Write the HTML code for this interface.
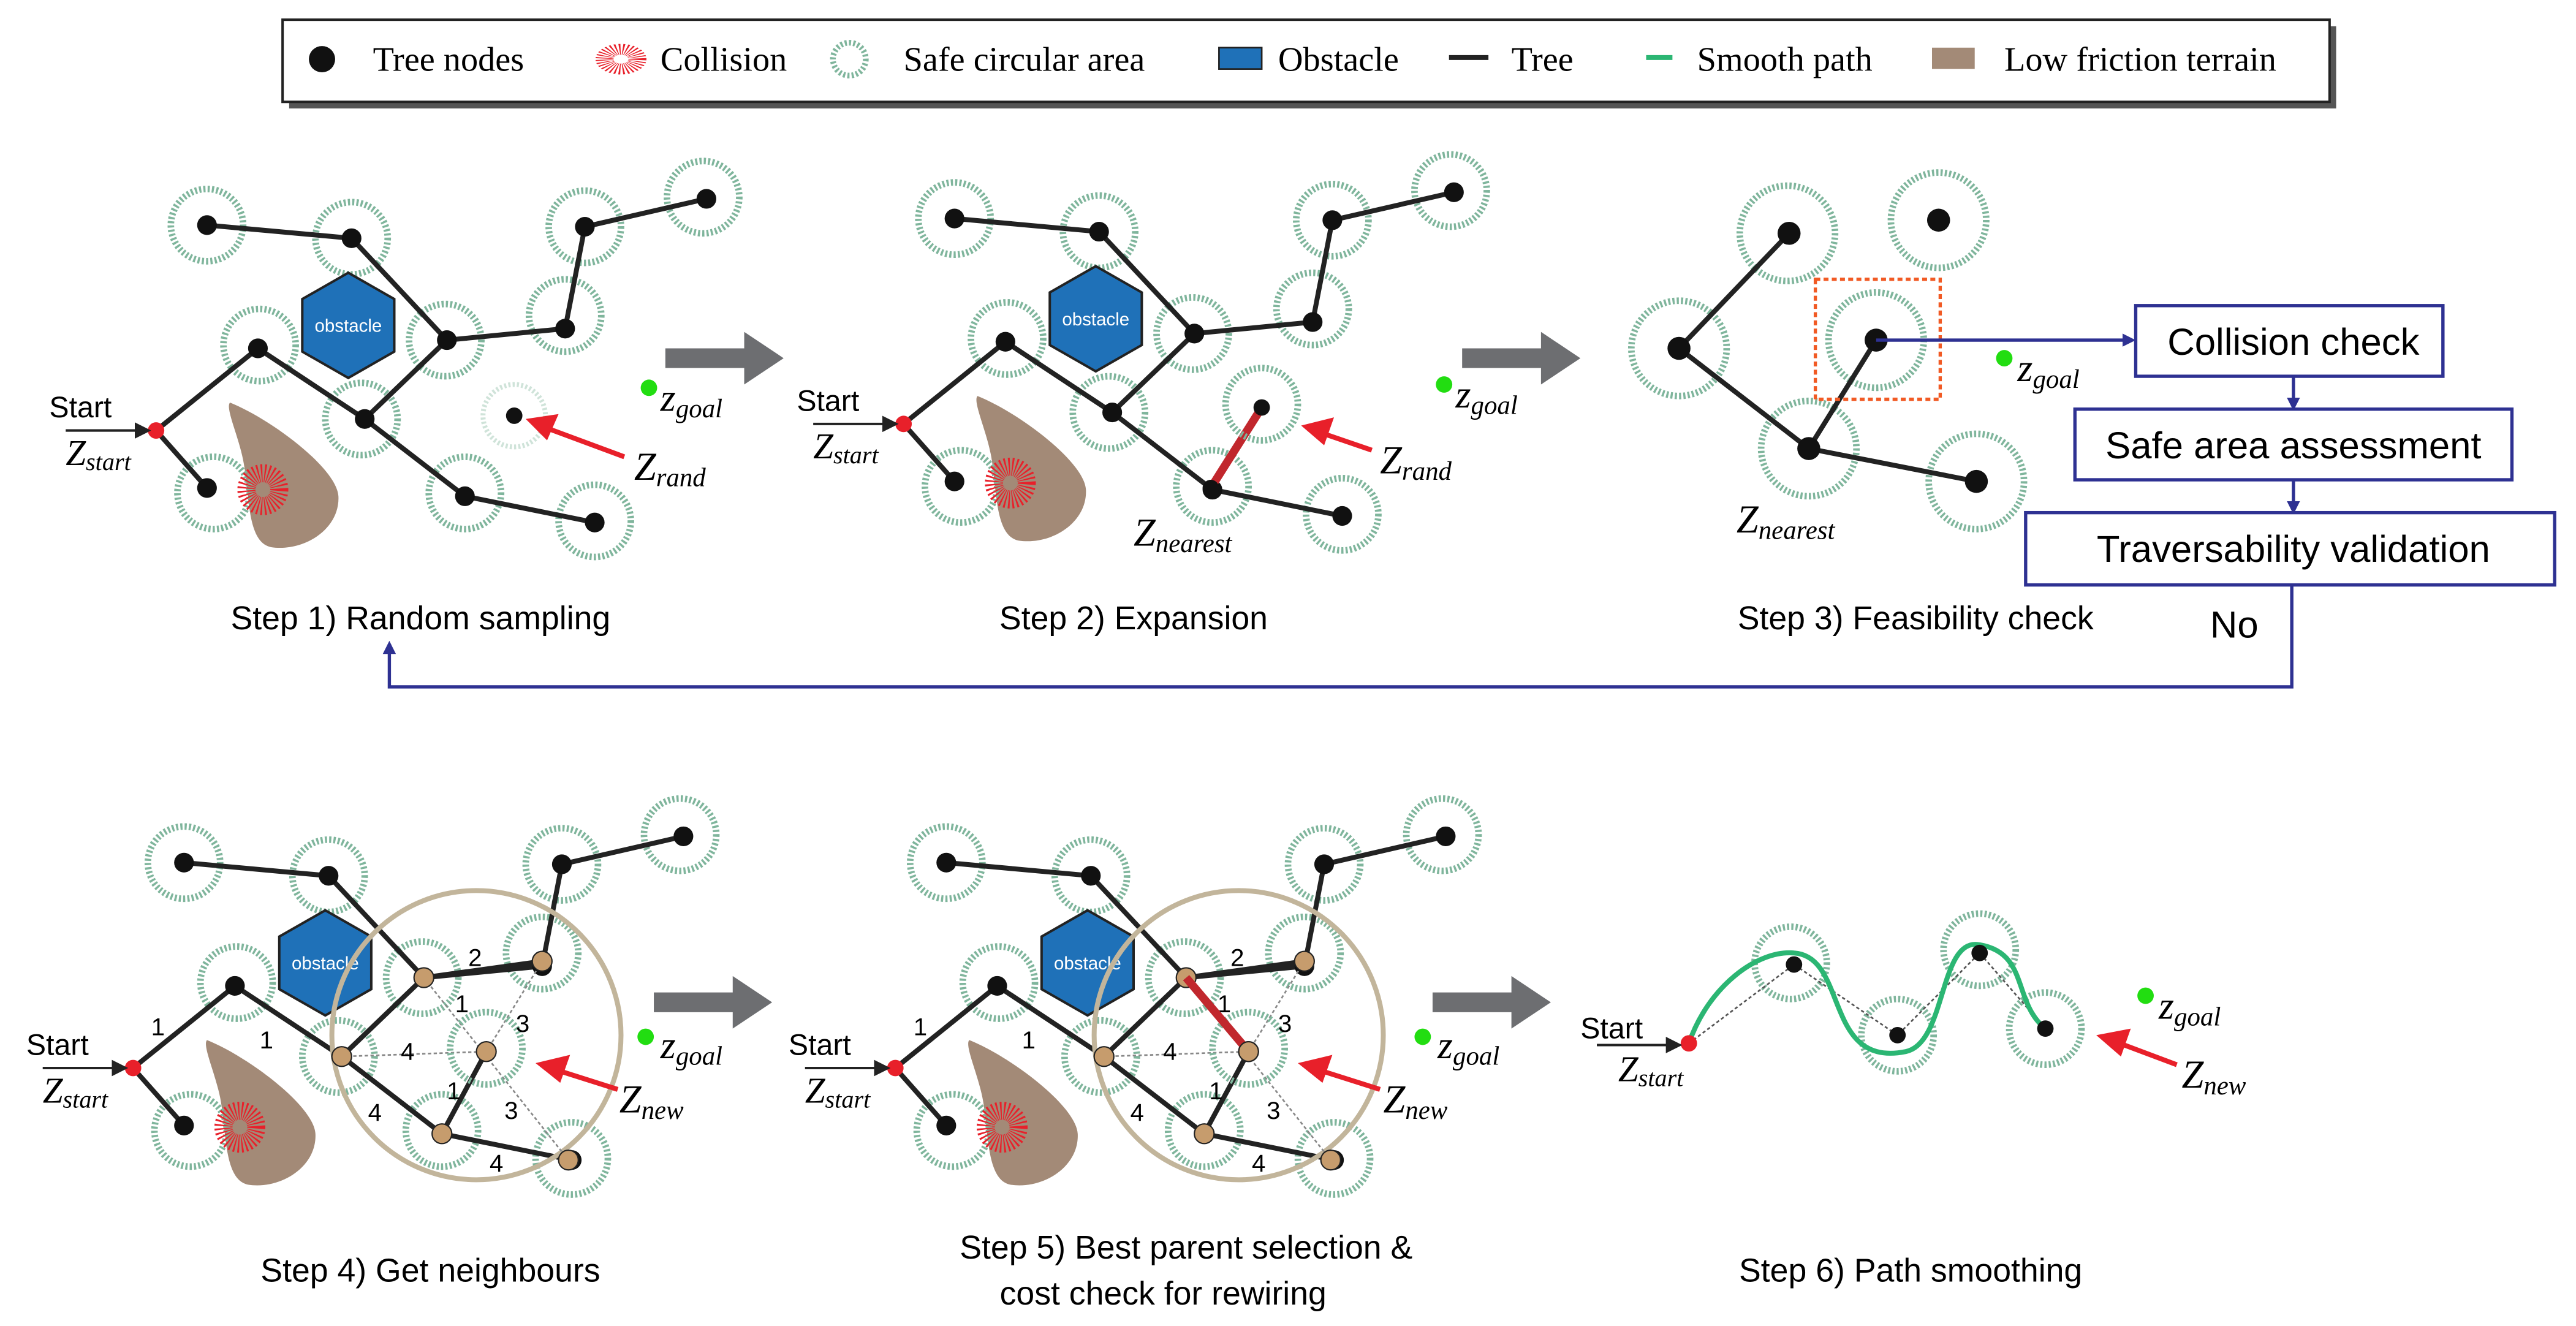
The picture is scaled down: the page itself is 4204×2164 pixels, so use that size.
<!DOCTYPE html>
<html><head><meta charset="utf-8"><style>
html,body{margin:0;padding:0;background:#fff;}
svg{display:block}
text{font-family:"Liberation Sans",sans-serif;}
.z{font-family:"Liberation Serif",serif;font-style:italic;}
</style></head><body>
<svg width="4204" height="2164" viewBox="0 0 1568 807" preserveAspectRatio="none" xmlns="http://www.w3.org/2000/svg">
<defs>
<g id="sc"><circle r="22" fill="none" stroke="#7fb59c" stroke-width="4" stroke-dasharray="1.3 1.3"/></g>
<g id="coll"><circle r="10" fill="none" stroke="#e8202a" stroke-width="11" stroke-dasharray="0.8 1.2"/></g>
<marker id="ab" markerWidth="8" markerHeight="8" refX="6" refY="4" orient="auto" markerUnits="userSpaceOnUse"><path d="M0,0 L8,4 L0,8z" fill="#2e3192"/></marker>
<marker id="ak" markerWidth="10" markerHeight="10" refX="8" refY="5" orient="auto" markerUnits="userSpaceOnUse"><path d="M0,0 L10,5 L0,10z" fill="#222"/></marker>
<g id="base">
<path d="M140,245 C165,255 205,285 206,302 C207,322 185,336 165,333 C150,330 152,300 148,280 C145,265 137,248 140,245z" fill="#a38a77"/>
<use href="#sc" x="126" y="137"/><use href="#sc" x="214" y="145"/><use href="#sc" x="356" y="138"/><use href="#sc" x="428" y="120"/>
<use href="#sc" x="344" y="192"/><use href="#sc" x="271" y="207"/><use href="#sc" x="158" y="210"/><use href="#sc" x="220" y="255"/>
<use href="#sc" x="283" y="300"/><use href="#sc" x="362" y="317"/><use href="#sc" x="130" y="300"/>
<g stroke="#222" stroke-width="3" fill="none">
<polyline points="126,137 214,145 272,207 344,200 356,138 430,121"/>
<polyline points="272,207 222,255 157,212 95,262 126,297"/>
<polyline points="222,255 283,302 362,318"/>
</g>
<use href="#coll" x="160" y="298"/>
<polygon points="212,166 240,182 240,214 212,230 184,214 184,182" fill="#1f71b8" stroke="#222" stroke-width="1.5"/>
<text x="212" y="202" font-size="11" fill="#fff" text-anchor="middle">obstacle</text>
<g fill="#111"><circle cx="126" cy="137" r="6"/><circle cx="214" cy="145" r="6"/><circle cx="356" cy="138" r="6"/><circle cx="430" cy="121" r="6"/><circle cx="344" cy="200" r="6"/><circle cx="272" cy="207" r="6"/><circle cx="157" cy="212" r="6"/><circle cx="222" cy="255" r="6"/><circle cx="283" cy="302" r="6"/><circle cx="362" cy="318" r="6"/><circle cx="126" cy="297" r="6"/></g>
<circle cx="95" cy="262" r="5" fill="#e8202a"/>
<text x="30" y="254" font-size="18">Start</text>
<line x1="40" y1="262" x2="90" y2="262" stroke="#222" stroke-width="1.5" marker-end="url(#ak)"/>
<text x="40" y="283" class="z" font-size="22">Z<tspan font-size="15" dy="3">start</tspan></text>
</g>
<g id="grey"><polygon points="0,-6 48,-6 48,-16 72,0 48,16 48,6 0,6" fill="#6d6e71"/></g>
</defs>
<!-- legend -->
<rect x="176" y="16" width="1246" height="50" fill="#555"/>
<rect x="172" y="12" width="1246" height="50" fill="#fff" stroke="#222" stroke-width="1.5"/>
<circle cx="196" cy="36" r="8" fill="#111"/><text x="227" y="43" class="z" font-size="21" style="font-style:normal">Tree nodes</text>
<use href="#coll" x="378" y="36" transform="translate(378 36) scale(1 0.6) translate(-378 -36)"/><text x="402" y="43" class="z" font-size="21" style="font-style:normal">Collision</text>
<circle cx="517" cy="36" r="10" fill="none" stroke="#7fb59c" stroke-width="3.5" stroke-dasharray="1.3 1.3"/><text x="550" y="43" class="z" font-size="21" style="font-style:normal">Safe circular area</text>
<rect x="742" y="29" width="26" height="13" fill="#1f71b8" stroke="#222"/><text x="778" y="43" class="z" font-size="21" style="font-style:normal">Obstacle</text>
<line x1="882" y1="35" x2="906" y2="35" stroke="#222" stroke-width="3"/><text x="920" y="43" class="z" font-size="21" style="font-style:normal">Tree</text>
<line x1="1002" y1="35" x2="1018" y2="35" stroke="#2bb673" stroke-width="3"/><text x="1033" y="43" class="z" font-size="21" style="font-style:normal">Smooth path</text>
<rect x="1176" y="29" width="26" height="13" fill="#a38a77"/><text x="1220" y="43" class="z" font-size="21" style="font-style:normal">Low friction terrain</text>

<!-- panel 1 -->
<use href="#base"/>
<circle cx="313" cy="253" r="19" fill="none" stroke="#cfe3d9" stroke-width="3" stroke-dasharray="1.3 1.3"/>
<circle cx="313" cy="253" r="5" fill="#111"/>
<line x1="380" y1="278" x2="326" y2="258" stroke="#e8202a" stroke-width="3"/><polygon points="320,255 340,252 333,268" fill="#e8202a"/>
<text x="386" y="292" class="z" font-size="24">Z<tspan font-size="16" dy="4">rand</tspan></text>
<circle cx="395" cy="236" r="5" fill="#22dd11"/><text x="402" y="250" class="z" font-size="24">z<tspan font-size="16" dy="4">goal</tspan></text>
<use href="#grey" x="405" y="218"/>
<text x="256" y="383" font-size="20" text-anchor="middle">Step 1) Random sampling</text>

<!-- panel 2 -->
<use href="#base" x="455" y="-4"/>
<line x1="737" y1="297" x2="768" y2="248" stroke="#c1272d" stroke-width="5"/>
<circle cx="768" cy="246" r="22" fill="none" stroke="#7fb59c" stroke-width="4" stroke-dasharray="1.3 1.3"/>
<circle cx="768" cy="248" r="5" fill="#111"/><circle cx="737" cy="297" r="5" fill="#111"/>
<line x1="835" y1="274" x2="800" y2="262" stroke="#e8202a" stroke-width="3"/><polygon points="792,259 812,254 806,271" fill="#e8202a"/>
<text x="840" y="288" class="z" font-size="24">Z<tspan font-size="16" dy="4">rand</tspan></text>
<text x="690" y="332" class="z" font-size="24">Z<tspan font-size="16" dy="4">nearest</tspan></text>
<circle cx="879" cy="234" r="5" fill="#22dd11"/><text x="886" y="248" class="z" font-size="24">z<tspan font-size="16" dy="4">goal</tspan></text>
<use href="#grey" x="890" y="218"/>
<text x="690" y="383" font-size="20" text-anchor="middle">Step 2) Expansion</text>

<!-- panel 3 -->
<g>
<circle cx="1088" cy="142" r="29" fill="none" stroke="#7fb59c" stroke-width="4" stroke-dasharray="1.3 1.3"/>
<circle cx="1180" cy="134" r="29" fill="none" stroke="#7fb59c" stroke-width="4" stroke-dasharray="1.3 1.3"/>
<circle cx="1022" cy="212" r="29" fill="none" stroke="#7fb59c" stroke-width="4" stroke-dasharray="1.3 1.3"/>
<circle cx="1142" cy="207" r="29" fill="none" stroke="#7fb59c" stroke-width="4" stroke-dasharray="1.3 1.3"/>
<circle cx="1101" cy="273" r="29" fill="none" stroke="#7fb59c" stroke-width="4" stroke-dasharray="1.3 1.3"/>
<circle cx="1203" cy="293" r="29" fill="none" stroke="#7fb59c" stroke-width="4" stroke-dasharray="1.3 1.3"/>
</g>
<polyline points="1089,142 1022,212 1101,273 1142,207" fill="none" stroke="#222" stroke-width="3"/>
<line x1="1101" y1="273" x2="1203" y2="293" stroke="#222" stroke-width="3"/>
<g fill="#111"><circle cx="1089" cy="142" r="7"/><circle cx="1180" cy="134" r="7"/><circle cx="1022" cy="212" r="7"/><circle cx="1142" cy="207" r="7"/><circle cx="1101" cy="273" r="7"/><circle cx="1203" cy="293" r="7"/></g>
<rect x="1105" y="170" width="76" height="73" fill="none" stroke="#f15a24" stroke-width="2" stroke-dasharray="3 2"/>
<text x="1057" y="324" class="z" font-size="24">Z<tspan font-size="16" dy="4">nearest</tspan></text>
<circle cx="1220" cy="218" r="5" fill="#22dd11"/><text x="1228" y="232" class="z" font-size="24">z<tspan font-size="16" dy="4">goal</tspan></text>
<line x1="1142" y1="207" x2="1298" y2="207" stroke="#2e3192" stroke-width="2" marker-end="url(#ab)"/>
<rect x="1300" y="186" width="187" height="43" fill="#fff" stroke="#2e3192" stroke-width="2"/>
<text x="1396" y="216" font-size="23" text-anchor="middle">Collision check</text>
<line x1="1396" y1="229" x2="1396" y2="248" stroke="#2e3192" stroke-width="2" marker-end="url(#ab)"/>
<rect x="1263" y="249" width="266" height="43" fill="#fff" stroke="#2e3192" stroke-width="2"/>
<text x="1396" y="279" font-size="23" text-anchor="middle">Safe area assessment</text>
<line x1="1396" y1="292" x2="1396" y2="311" stroke="#2e3192" stroke-width="2" marker-end="url(#ab)"/>
<rect x="1233" y="312" width="322" height="44" fill="#fff" stroke="#2e3192" stroke-width="2"/>
<text x="1396" y="342" font-size="23" text-anchor="middle">Traversability validation</text>
<text x="1360" y="388" font-size="23" text-anchor="middle">No</text>
<polyline points="1395,356 1395,418 237,418 237,392" fill="none" stroke="#2e3192" stroke-width="2" marker-end="url(#ab)"/>
<text x="1166" y="383" font-size="20" text-anchor="middle">Step 3) Feasibility check</text>

<!-- panel 4 -->
<g id="p4">
<use href="#base" x="-14" y="388"/>
<circle cx="290" cy="630" r="88" fill="none" stroke="#c2b59b" stroke-width="3"/>
<g stroke="#888" stroke-width="1" stroke-dasharray="2 1.5" fill="none">
<line x1="208" y1="643" x2="296" y2="640"/><line x1="258" y1="595" x2="346" y2="706"/><line x1="330" y1="585" x2="296" y2="640"/>
</g>
<g stroke="#222" stroke-width="3"><line x1="258" y1="595" x2="330" y2="585"/><line x1="296" y1="640" x2="269" y2="690"/></g>
<g fill="#c69c6d" stroke="#222" stroke-width="0.8"><circle cx="258" cy="595" r="6"/><circle cx="208" cy="643" r="6"/><circle cx="269" cy="690" r="6"/><circle cx="346" cy="706" r="6"/><circle cx="330" cy="585" r="6"/><circle cx="296" cy="640" r="6"/></g>
<use href="#sc" x="296" y="638"/>
<g font-size="15">
<text x="92" y="630">1</text><text x="158" y="638">1</text><text x="285" y="588">2</text><text x="277" y="616">1</text><text x="314" y="628">3</text><text x="244" y="645">4</text><text x="272" y="669">1</text><text x="307" y="681">3</text><text x="224" y="682">4</text><text x="298" y="713">4</text>
</g>
</g>
<line x1="376" y1="663" x2="335" y2="650" stroke="#e8202a" stroke-width="3"/><polygon points="326,647 347,642 341,659" fill="#e8202a"/>
<text x="377" y="677" class="z" font-size="24">Z<tspan font-size="16" dy="4">new</tspan></text>
<circle cx="393" cy="631" r="5" fill="#22dd11"/><text x="402" y="644" class="z" font-size="24">z<tspan font-size="16" dy="4">goal</tspan></text>
<use href="#grey" x="398" y="610"/>
<text x="262" y="780" font-size="20" text-anchor="middle">Step 4) Get neighbours</text>

<!-- panel 5 -->
<use href="#p4" x="464" y="0"/>
<line x1="722" y1="595" x2="760" y2="640" stroke="#c1272d" stroke-width="5"/>
<circle cx="760" cy="640" r="6" fill="#c69c6d" stroke="#222" stroke-width="0.8"/>
<line x1="840" y1="663" x2="799" y2="650" stroke="#e8202a" stroke-width="3"/><polygon points="790,647 811,642 805,659" fill="#e8202a"/>
<text x="842" y="677" class="z" font-size="24">Z<tspan font-size="16" dy="4">new</tspan></text>
<circle cx="866" cy="631" r="5" fill="#22dd11"/><text x="875" y="644" class="z" font-size="24">z<tspan font-size="16" dy="4">goal</tspan></text>
<use href="#grey" x="872" y="610"/>
<text x="722" y="766" font-size="20" text-anchor="middle">Step 5) Best parent selection &amp;</text>
<text x="708" y="794" font-size="20" text-anchor="middle">cost check for rewiring</text>

<!-- panel 6 -->
<use href="#sc" x="1090" y="586"/><use href="#sc" x="1155" y="630"/><use href="#sc" x="1205" y="578"/><use href="#sc" x="1245" y="626"/>
<g stroke="#555" stroke-width="1" stroke-dasharray="2 1.5" fill="none"><polyline points="1028,635 1092,587 1155,630 1205,580 1245,626"/></g>
<path d="M1028,635 C1040,600 1070,578 1092,580 C1125,582 1110,650 1160,640 C1185,635 1180,570 1205,575 C1235,580 1225,610 1245,626" fill="none" stroke="#2bb673" stroke-width="3"/>
<g fill="#111"><circle cx="1092" cy="587" r="5"/><circle cx="1155" cy="630" r="5"/><circle cx="1205" cy="580" r="5"/><circle cx="1245" cy="626" r="5"/></g>
<circle cx="1028" cy="635" r="5" fill="#e8202a"/>
<text x="962" y="632" font-size="18">Start</text>
<line x1="972" y1="636" x2="1022" y2="636" stroke="#222" stroke-width="1.5" marker-end="url(#ak)"/>
<text x="985" y="658" class="z" font-size="22">Z<tspan font-size="15" dy="3">start</tspan></text>
<circle cx="1306" cy="606" r="5" fill="#22dd11"/><text x="1314" y="620" class="z" font-size="24">z<tspan font-size="16" dy="4">goal</tspan></text>
<line x1="1325" y1="648" x2="1285" y2="633" stroke="#e8202a" stroke-width="3"/><polygon points="1276,630 1297,626 1291,643" fill="#e8202a"/>
<text x="1328" y="662" class="z" font-size="24">Z<tspan font-size="16" dy="4">new</tspan></text>
<text x="1163" y="780" font-size="20" text-anchor="middle">Step 6) Path smoothing</text>
</svg>
</body></html>
